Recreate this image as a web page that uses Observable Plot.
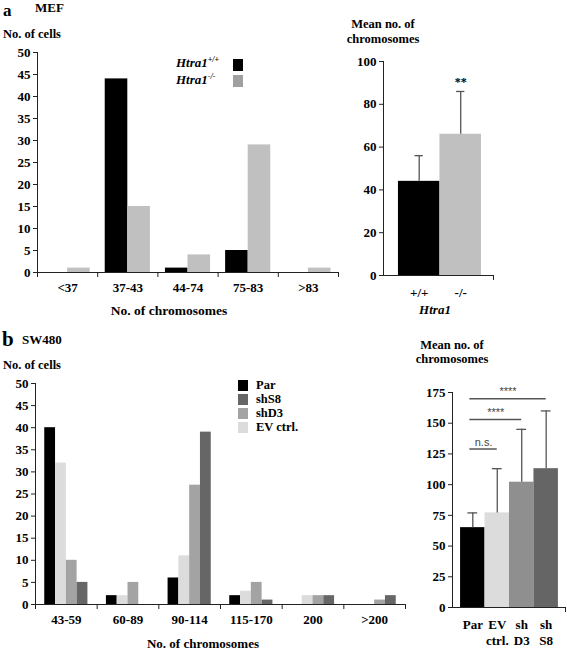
<!DOCTYPE html>
<html><head><meta charset="utf-8">
<script src="https://cdn.jsdelivr.net/npm/d3@7"></script>
<script src="https://cdn.jsdelivr.net/npm/@observablehq/plot@0.6"></script>
<style>
body{margin:0;background:#fff;}
#root{position:relative;width:567px;height:651px;overflow:hidden;font-family:"Liberation Serif","Times New Roman",serif;font-weight:bold;color:#000;}
#root svg{font-family:"Liberation Serif","Times New Roman",serif;font-weight:bold;}
.abs{position:absolute;white-space:nowrap;line-height:1;}
.plot{position:absolute;}
.sq{position:absolute;}
</style></head><body><div id="root"></div>
<script>
// ---- Panel a (MEF) ----
const mefGroups = ["<37", "37-43", "44-74", "75-83", ">83"];
const mefSeries = ["Htra1+/+", "Htra1-/-"];
const mefWT = [0, 44, 1, 5, 0];
const mefKO = [1, 15, 4, 29, 1];
const mefColors = ["#000000", "#c0c0c0"];
const mefLegendColors = ["#000000", "#a0a0a0"];
const mefMeanLabels = ["+/+", "-/-"];
const mefMean = [44, 66];
const mefErrTop = [56, 86];
const mefSig = ["", "**"];
const mefYTicks = [0, 5, 10, 15, 20, 25, 30, 35, 40, 45, 50];
const mefMeanYTicks = [0, 20, 40, 60, 80, 100];

// ---- Panel b (SW480) ----
const swGroups = ["43-59", "60-89", "90-114", "115-170", "200", ">200"];
const swSeries = ["Par", "EV ctrl.", "shD3", "shS8"];
const swPar = [40, 2, 6, 2, 0, 0];
const swEV = [32, 2, 11, 3, 2, 0];
const swD3 = [10, 5, 27, 5, 2, 1];
const swS8 = [5, 0, 39, 1, 2, 2];
const swColors = ["#000000", "#dcdcdc", "#a3a3a3", "#666666"];
const swLegendOrder = ["Par", "shS8", "shD3", "EV ctrl."];
const swMeanLabels = ["Par", "EV\nctrl.", "sh\nD3", "sh\nS8"];
const swMeanColors = ["#000000", "#dcdcdc", "#8f8f8f", "#656565"];
const swMean = [65, 77, 102, 113];
const swErrTop = [77, 113, 145, 160];
const swCompareTo = [1, 2, 3];
const swCompareY = [129, 153, 170];
const swCompareLabel = ["n.s.", "****", "****"];
const swYTicks = [0, 5, 10, 15, 20, 25, 30, 35, 40, 45, 50];
const swMeanYTicks = [0, 25, 50, 75, 100, 125, 150, 175];

const root = document.getElementById("root");
const serif = "'Liberation Serif','Times New Roman',serif";
const baseStyle = {fontFamily: serif, fontSize: "13px", fontWeight: "bold", overflow: "visible", background: "transparent", color: "#000"};
const txt = {fontFamily: serif, fontWeight: "bold"};

function place(node, left, top) {
  node.classList.add("plot");
  node.style.left = left + "px";
  node.style.top = top + "px";
  root.appendChild(node);
}
function label(html, css) {
  const d = document.createElement("div");
  d.className = "abs";
  d.innerHTML = html;
  Object.assign(d.style, css);
  root.appendChild(d);
  return d;
}
function square(left, top, w, h, color) {
  const d = document.createElement("div");
  d.className = "sq";
  Object.assign(d.style, {left: left + "px", top: top + "px", width: w + "px", height: h + "px", background: color});
  root.appendChild(d);
}

function groupedRows(groups, series, valuesBySeries, pad) {
  const w = (1 - 2 * pad) / series.length;
  return groups.flatMap((g, i) => series.map((s, j) => ({
    group: g, series: s, value: valuesBySeries[j][i],
    x1: i + pad + j * w, x2: i + pad + (j + 1) * w
  })));
}

function histogram({groups, series, values, colors, pad, yTicks, width, height, margins}) {
  const rows = groupedRows(groups, series, values, pad);
  const n = groups.length;
  return Plot.plot({
    width, height, ...margins,
    style: baseStyle,
    x: {domain: [0, n], label: null},
    y: {domain: [0, d3.max(yTicks)], label: null},
    color: {domain: series, range: colors},
    marks: [
      Plot.rectY(rows, {x1: "x1", x2: "x2", y: "value", fill: "series"}),
      Plot.ruleY([0], {stroke: "#222"}),
      Plot.ruleX([0], {stroke: "#222"}),
      Plot.axisY(yTicks, {tickSize: 4, tickPadding: 3, label: null, stroke: "#222", fontSize: 13, ...txt}),
      Plot.axisX(d3.range(n + 1), {tickSize: 5, tickFormat: () => "", label: null, stroke: "#222"}),
      Plot.axisX(groups.map((_, i) => i + 0.5), {tickSize: 0, tickPadding: 10, label: null, fontSize: 13, ...txt, tickFormat: v => groups[Math.floor(v)]})
    ]
  });
}

function meanChart({labels, means, errTop, colors, domain, yTicks, width, height, margins, capHalf, extra}) {
  const idx = d3.range(labels.length);
  return Plot.plot({
    width, height, ...margins,
    style: baseStyle,
    x: {domain, label: null},
    y: {domain: [0, d3.max(yTicks)], label: null},
    color: {domain: labels, range: colors},
    marks: [
      Plot.rectY(idx, {x1: i => i, x2: i => i + 1, y: i => means[i], fill: i => labels[i]}),
      Plot.ruleX(idx, {x: i => i + 0.5, y1: i => means[i], y2: i => errTop[i], stroke: "#555", strokeWidth: 1.3}),
      Plot.ruleY(idx, {y: i => errTop[i], x1: i => i + 0.5 - capHalf, x2: i => i + 0.5 + capHalf, stroke: "#555", strokeWidth: 1.3}),
      ...extra(idx),
      Plot.ruleY([0], {stroke: "#222"}),
      Plot.ruleX([domain[0]], {stroke: "#222"}),
      Plot.axisY(yTicks, {tickSize: 4, tickPadding: 3, label: null, stroke: "#222", fontSize: 13, ...txt}),
      Plot.axisX([domain[1]], {tickSize: 5, tickFormat: () => "", label: null, stroke: "#222"}),
      Plot.axisX(idx.map(i => i + 0.5), {tickSize: 0, tickPadding: 10, label: null, fontSize: 13, lineHeight: 1.25, ...txt, tickFormat: v => labels[Math.floor(v)]})
    ]
  });
}

// ---- Panel a, left histogram ----
place(histogram({
  groups: mefGroups, series: mefSeries, values: [mefWT, mefKO], colors: mefColors, pad: 0.125,
  yTicks: mefYTicks, width: 345, height: 305,
  margins: {marginLeft: 37, marginTop: 52, marginBottom: 33, marginRight: 7}
}), 0, 0);

// ---- Panel a, right means ----
place(meanChart({
  labels: mefMeanLabels, means: mefMean, errTop: mefErrTop, colors: mefColors,
  domain: [-0.36, 2.29], yTicks: mefMeanYTicks, width: 220, height: 260,
  margins: {marginLeft: 43, marginTop: 11, marginBottom: 35, marginRight: 67}, capHalf: 0.1,
  extra: idx => [Plot.text(idx, {x: i => i + 0.5, y: i => mefErrTop[i], text: i => mefSig[i], dy: -9, fontSize: 12, ...txt})]
}), 340, 50);

// ---- Panel b, left histogram ----
place(histogram({
  groups: swGroups, series: swSeries, values: [swPar, swEV, swD3, swS8], colors: swColors, pad: 0.15,
  yTicks: swYTicks, width: 420, height: 300,
  margins: {marginLeft: 35, marginTop: 43, marginBottom: 36, marginRight: 15}
}), 0, 340);

// ---- Panel b, right means ----
place(meanChart({
  labels: swMeanLabels, means: swMean, errTop: swErrTop, colors: swMeanColors,
  domain: [-0.33, 4.29], yTicks: swMeanYTicks, width: 167, height: 281,
  margins: {marginLeft: 52, marginTop: 22, marginBottom: 44, marginRight: 2}, capHalf: 0.2,
  extra: () => {
    const cmp = d3.range(swCompareTo.length);
    return [
      Plot.ruleY(cmp, {y: k => swCompareY[k], x1: 0.38, x2: k => swCompareTo[k] + 0.5, stroke: "#555", strokeWidth: 1.5}),
      Plot.text(cmp, {x: k => (0.38 + swCompareTo[k] + 0.5) / 2, y: k => swCompareY[k], text: k => swCompareLabel[k], dy: -7,
        fontFamily: "'Liberation Sans', Arial, sans-serif", fontWeight: "normal", fontSize: 11, fill: "#444"})
    ];
  }
}), 400, 370);

// ---- Texts & legends ----
label("a", {left: "3px", top: "2px", fontSize: "17px"});
label("MEF", {left: "35px", top: "1px", fontSize: "13px"});
label("No. of cells", {left: "3px", top: "28px", fontSize: "12.5px"});
label("No. of chromosomes", {left: "169px", top: "304px", fontSize: "13.5px", transform: "translateX(-50%)"});
label("Mean no. of<br>chromosomes", {left: "383px", top: "17px", fontSize: "12.5px", textAlign: "center", lineHeight: "1.2", transform: "translateX(-50%)"});
label("Htra1", {left: "435px", top: "303px", fontSize: "13px", fontStyle: "italic", transform: "translateX(-50%)"});

label("<i>Htra1</i><sup style='font-size:8px;font-style:italic'>+/+</sup>", {left: "176px", top: "56px", fontSize: "13px"});
label("<i>Htra1</i><sup style='font-size:8px;font-style:italic'>-/-</sup>", {left: "176px", top: "73px", fontSize: "13px"});
square(233, 59, 10, 12, mefLegendColors[0]);
square(233, 75, 10, 12, mefLegendColors[1]);

label("b", {left: "2px", top: "329px", fontSize: "21px"});
label("SW480", {left: "22px", top: "333px", fontSize: "13px"});
label("No. of cells", {left: "3px", top: "359px", fontSize: "12.5px"});
label("No. of chromosomes", {left: "203px", top: "637px", fontSize: "13px", transform: "translateX(-50%)"});
label("Mean no. of<br>chromosomes", {left: "452px", top: "339px", fontSize: "12.5px", textAlign: "center", lineHeight: "1.1", transform: "translateX(-50%)"});

swLegendOrder.forEach((s, k) => {
  const c = swColors[swSeries.indexOf(s)];
  square(238, 380 + k * 14, 10, 11, c);
  label(s, {left: "256px", top: (379 + k * 14) + "px", fontSize: "12.5px"});
});
</script>
</body></html>
